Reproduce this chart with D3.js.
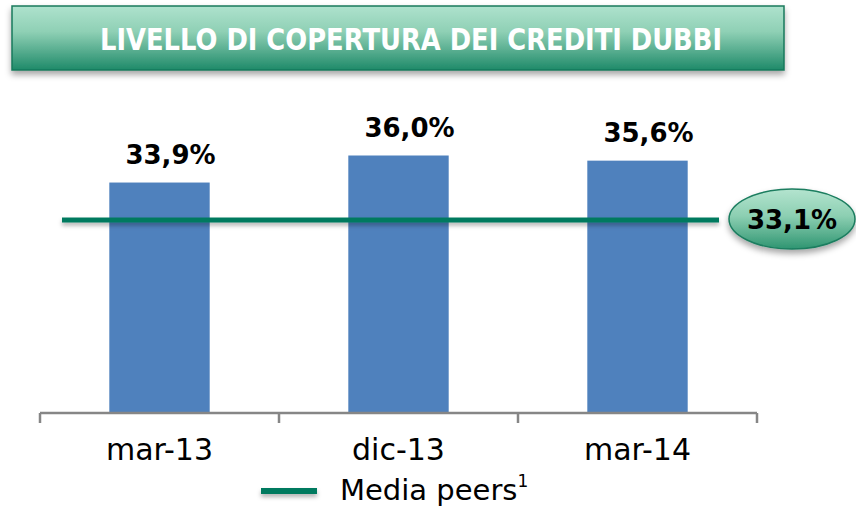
<!DOCTYPE html>
<html>
<head>
<meta charset="utf-8">
<script src="https://cdn.jsdelivr.net/npm/d3@7"></script>
<style>
  html, body { margin: 0; padding: 0; background: #fff; }
  svg { display: block; }
</style>
</head>
<body>
<svg id="chart" width="856" height="508"></svg>
<script>
// ---- data ----
const title = "LIVELLO DI COPERTURA DEI CREDITI DUBBI";
const categories = ["mar-13", "dic-13", "mar-14"];
const coverage = [33.9, 36.0, 35.6];
const coverageLabels = ["33,9%", "36,0%", "35,6%"];
const peerAverage = 33.1;
const peerLabel = "33,1%";
const legendLabel = "Media peers";
const legendSup = "1";

// ---- layout ----
const W = 856, H = 508;
const plot = { left: 40, right: 757, top: 104, bottom: 413 };
const svg = d3.select("#chart");
const defs = svg.append("defs");

const bannerGrad = defs.append("linearGradient").attr("id", "bannerGrad")
  .attr("x1", 0).attr("y1", 0).attr("x2", 0).attr("y2", 1);
bannerGrad.append("stop").attr("offset", "0%").attr("stop-color", "#aee2cd");
bannerGrad.append("stop").attr("offset", "40%").attr("stop-color", "#8fd0b5");
bannerGrad.append("stop").attr("offset", "100%").attr("stop-color", "#1f8a69");

const ellGrad = defs.append("linearGradient").attr("id", "ellGrad")
  .attr("x1", 0).attr("y1", 0).attr("x2", 0).attr("y2", 1);
ellGrad.append("stop").attr("offset", "0%").attr("stop-color", "#b4e4cf");
ellGrad.append("stop").attr("offset", "45%").attr("stop-color", "#8ccfb2");
ellGrad.append("stop").attr("offset", "100%").attr("stop-color", "#2f9571");

const shadow = defs.append("filter").attr("id", "shadow")
  .attr("filterUnits", "userSpaceOnUse")
  .attr("x", 0).attr("y", 0).attr("width", W).attr("height", H);
shadow.append("feDropShadow").attr("dx", 0).attr("dy", 4).attr("stdDeviation", 3)
  .attr("flood-color", "#000").attr("flood-opacity", 0.35);

const lineShadow = defs.append("filter").attr("id", "lineShadow")
  .attr("filterUnits", "userSpaceOnUse")
  .attr("x", 0).attr("y", 0).attr("width", W).attr("height", H);
lineShadow.append("feDropShadow").attr("dx", 0).attr("dy", 3).attr("stdDeviation", 2)
  .attr("flood-color", "#000").attr("flood-opacity", 0.3);

// ---- title banner ----
svg.append("rect")
  .attr("x", 12).attr("y", 6).attr("width", 772).attr("height", 64)
  .attr("fill", "url(#bannerGrad)")
  .attr("stroke", "#17795c").attr("stroke-width", 1.5)
  .attr("filter", "url(#shadow)");
svg.append("text")
  .attr("x", 411).attr("y", 50)
  .attr("text-anchor", "middle")
  .attr("font-family", "'DejaVu Sans', sans-serif")
  .attr("font-weight", "bold")
  .attr("font-size", 31)
  .attr("fill", "#fff")
  .attr("textLength", 622)
  .attr("lengthAdjust", "spacingAndGlyphs")
  .text(title);

// ---- scales ----
const x = d3.scaleBand().domain(categories)
  .range([plot.left, plot.right]).paddingInner(0.58).paddingOuter(0.29);
const y = d3.scaleLinear().domain([16, 40]).range([plot.bottom, plot.top]);
// secondary axis for the peer-average overlay line
const y2 = d3.scaleLinear().domain([0, 53]).range([plot.bottom, plot.top]);

// ---- bars ----
svg.append("g").selectAll("rect").data(categories).join("rect")
  .attr("x", d => x(d))
  .attr("width", x.bandwidth())
  .attr("y", (d, i) => y(coverage[i]))
  .attr("height", (d, i) => plot.bottom - y(coverage[i]))
  .attr("fill", "#4f81bd");

// ---- value labels ----
svg.append("g").selectAll("text").data(categories).join("text")
  .attr("x", d => x(d) + x.bandwidth() / 2 + 11)
  .attr("y", (d, i) => y(coverage[i]) - 19)
  .attr("text-anchor", "middle")
  .attr("font-family", "'DejaVu Sans', sans-serif")
  .attr("font-weight", "bold")
  .attr("font-size", 26)
  .attr("fill", "#000")
  .text((d, i) => coverageLabels[i]);

// ---- x axis ----
const band = (plot.right - plot.left) / categories.length;
const axisG = svg.append("g").attr("transform", `translate(0,${plot.bottom})`);
axisG.append("line")
  .attr("x1", plot.left).attr("x2", plot.right)
  .attr("stroke", "#868686").attr("stroke-width", 2.5);
axisG.selectAll("line.tick").data(d3.range(categories.length + 1)).join("line")
  .attr("class", "tick")
  .attr("x1", i => plot.left + i * band).attr("x2", i => plot.left + i * band)
  .attr("y1", 0).attr("y2", 10)
  .attr("stroke", "#868686").attr("stroke-width", 2.5);
axisG.selectAll("text").data(categories).join("text")
  .attr("x", d => x(d) + x.bandwidth() / 2)
  .attr("y", 47)
  .attr("text-anchor", "middle")
  .attr("font-family", "'DejaVu Sans', sans-serif")
  .attr("font-size", 30)
  .attr("fill", "#000")
  .text(d => d);

// ---- peer average line ----
const py = y2(peerAverage);
svg.append("rect")
  .attr("x", 62).attr("width", 719 - 62)
  .attr("y", py - 2.5).attr("height", 5)
  .attr("fill", "#007a5e")
  .attr("filter", "url(#lineShadow)");

// ---- peer label ellipse ----
svg.append("ellipse")
  .attr("cx", 792).attr("cy", py - 1)
  .attr("rx", 63).attr("ry", 30)
  .attr("fill", "url(#ellGrad)")
  .attr("stroke", "#1b7d5f").attr("stroke-width", 1.5)
  .attr("filter", "url(#shadow)");
svg.append("text")
  .attr("x", 792).attr("y", py + 9)
  .attr("text-anchor", "middle")
  .attr("font-family", "'DejaVu Sans', sans-serif")
  .attr("font-weight", "bold")
  .attr("font-size", 26)
  .attr("fill", "#000")
  .text(peerLabel);

// ---- legend ----
svg.append("rect")
  .attr("x", 261).attr("width", 56).attr("y", 488).attr("height", 6)
  .attr("fill", "#007a5e")
  .attr("filter", "url(#lineShadow)");
const lt = svg.append("text")
  .attr("x", 340).attr("y", 500)
  .attr("font-family", "'DejaVu Sans', sans-serif")
  .attr("font-size", 29)
  .attr("fill", "#000");
lt.append("tspan").text(legendLabel);
lt.append("tspan").attr("font-size", 17).attr("dy", -13).text(legendSup);
</script>
</body>
</html>
